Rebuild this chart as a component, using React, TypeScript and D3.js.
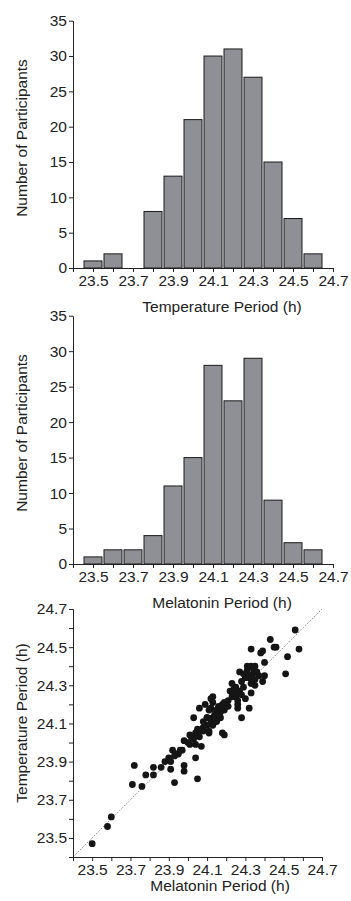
import React, { useEffect, useRef } from 'react';
import * as d3 from 'd3';

// histogram bins (centre of each 0.1 h bin)
const binCenters = [23.5, 23.6, 23.7, 23.8, 23.9, 24.0, 24.1, 24.2, 24.3, 24.4, 24.5, 24.6];
const temperatureCounts = [1, 2, 0, 8, 13, 21, 30, 31, 27, 15, 7, 2];
const melatoninCounts = [1, 2, 2, 4, 11, 15, 28, 23, 29, 9, 3, 2];

const periodTicks = [23.5, 23.7, 23.9, 24.1, 24.3, 24.5, 24.7];
const periodMinorTicks = [23.4, 23.6, 23.8, 24.0, 24.2, 24.4, 24.6];
const countTicks = [0, 5, 10, 15, 20, 25, 30, 35];

// scatter: melatonin period (x) vs temperature period (y), same order
const melatoninPeriod = [
  23.50, 23.58, 23.60, 23.71, 23.72, 23.76, 23.78, 23.82, 23.82, 23.86,
  23.88, 23.90, 23.91, 23.91, 23.92, 23.93, 23.94, 23.96, 23.97, 23.98,
  23.98, 23.98, 24.01, 24.01, 24.03, 24.03, 24.04, 24.04, 24.05, 24.05,
  24.06, 24.06, 24.07, 24.08, 24.08, 24.09, 24.10, 24.10, 24.11, 24.11,
  24.12, 24.12, 24.12, 24.13, 24.13, 24.13, 24.14, 24.14, 24.15, 24.15,
  24.15, 24.16, 24.16, 24.17, 24.17, 24.18, 24.18, 24.19, 24.19, 24.19,
  24.20, 24.21, 24.22, 24.23, 24.23, 24.24, 24.25, 24.25, 24.26, 24.26,
  24.27, 24.27, 24.28, 24.28, 24.29, 24.29, 24.30, 24.30, 24.31, 24.31,
  24.32, 24.32, 24.33, 24.33, 24.33, 24.33, 24.34, 24.34, 24.35, 24.35,
  24.38, 24.39, 24.39, 24.40, 24.40, 24.43, 24.45, 24.46, 24.51, 24.52,
  24.56, 24.58,
  24.35, 24.36, 24.34, 24.37, 24.32, 24.25, 24.24, 24.26, 24.28, 24.13,
  24.11, 24.17, 24.19, 24.14, 24.12, 24.08, 24.06, 24.10, 24.16, 24.21,
  24.00, 24.02, 23.95, 23.93, 24.04
];
const temperaturePeriod = [
  23.47, 23.56, 23.61, 23.78, 23.88, 23.77, 23.83, 23.83, 23.87, 23.87,
  23.90, 23.92, 23.86, 23.90, 23.96, 23.79, 23.94, 23.96, 23.96, 23.85,
  23.88, 24.01, 24.04, 23.99, 24.13, 24.02, 23.99, 23.92, 23.81, 24.07,
  24.18, 24.03, 23.98, 24.06, 24.11, 24.20, 24.09, 24.13, 24.05, 24.06,
  24.10, 24.18, 24.23, 24.24, 24.13, 24.09, 24.15, 24.12, 24.13, 24.17,
  24.11, 24.15, 24.19, 24.16, 24.13, 24.05, 24.20, 24.17, 24.04, 24.18,
  24.20, 24.19, 24.27, 24.31, 24.24, 24.27, 24.29, 24.24, 24.20, 24.18,
  24.37, 24.27, 24.32, 24.13, 24.36, 24.29, 24.23, 24.34, 24.38, 24.40,
  24.34, 24.18, 24.40, 24.31, 24.49, 24.26, 24.36, 24.39, 24.30, 24.40,
  24.47, 24.48, 24.32, 24.35, 24.42, 24.54, 24.50, 24.50, 24.36, 24.45,
  24.59, 24.49,
  24.33, 24.37, 24.31, 24.35, 24.35, 24.25, 24.28, 24.22, 24.25, 24.21,
  24.17, 24.19, 24.21, 24.12, 24.10, 24.08, 24.06, 24.13, 24.15, 24.22,
  24.00, 24.02, 23.94, 23.93, 24.05
];

const FONT = '"Liberation Sans", Arial, sans-serif';
const INK = '#222';
const FS = '15.5px';

const App = () => {
  const ref = useRef(null);

  useEffect(() => {
    const svg = d3.select(ref.current);
    svg.selectAll('*').remove();

    const styleAxis = (g) => {
      g.selectAll('path').attr('stroke', INK).attr('stroke-width', 1);
      g.selectAll('line').attr('stroke', INK).attr('stroke-width', 1);
      g.selectAll('text').attr('fill', INK).style('font-family', FONT).style('font-size', FS);
    };
    // unlabeled ticks: drop the empty text nodes
    const noText = (g) => g.selectAll('text').remove();

    const addLabel = (x, y, text, rotate = false) => {
      svg.append('text')
        .attr('transform', rotate ? `translate(${x},${y}) rotate(-90)` : `translate(${x},${y})`)
        .attr('text-anchor', 'middle')
        .attr('fill', INK)
        .style('font-family', FONT)
        .style('font-size', FS)
        .text(text);
    };

    const drawHistogram = (top, bottom, counts, yLabelMid, xLabel, xLabelY) => {
      const x = d3.scaleLinear().domain([23.4, 24.7]).range([73, 333]);
      const y = d3.scaleLinear().domain([0, 35]).range([bottom, top]);

      svg.append('g')
        .selectAll('rect')
        .data(binCenters.map((c, i) => ({ c, n: counts[i] })).filter(d => d.n > 0))
        .enter()
        .append('rect')
        .attr('x', d => x(d.c - 0.05) + 1)
        .attr('y', d => y(d.n))
        .attr('width', d => x(d.c + 0.05) - x(d.c - 0.05) - 2)
        .attr('height', d => y(0) - y(d.n))
        .attr('fill', '#8f9095')
        .attr('stroke', '#1a1a1a')
        .attr('stroke-width', 1);

      svg.append('g')
        .attr('transform', `translate(0,${bottom})`)
        .call(d3.axisBottom(x).tickValues(periodMinorTicks).tickSize(4).tickSizeOuter(0))
        .call(noText)
        .call(styleAxis);
      svg.append('g')
        .attr('transform', `translate(0,${bottom})`)
        .call(d3.axisBottom(x).tickValues(periodTicks).tickFormat(d3.format('.1f')).tickSize(4).tickPadding(3).tickSizeOuter(0))
        .call(styleAxis);

      svg.append('g')
        .attr('transform', 'translate(73,0)')
        .call(d3.axisLeft(y).tickValues(countTicks).tickSize(4).tickPadding(2).tickSizeOuter(0))
        .call(styleAxis);

      addLabel(27, yLabelMid, 'Number of Participants', true);
      addLabel(222, xLabelY, xLabel);
    };

    drawHistogram(20.7, 268, temperatureCounts, 138, 'Temperature Period (h)', 312);
    drawHistogram(315.7, 564, melatoninCounts, 433, 'Melatonin Period (h)', 608);

    // scatter
    const sx = d3.scaleLinear().domain([23.4, 24.7]).range([73, 322]);
    const sy = d3.scaleLinear().domain([23.4, 24.7]).range([857, 609]);

    svg.append('line')
      .attr('x1', sx(23.4)).attr('y1', sy(23.4))
      .attr('x2', sx(24.7)).attr('y2', sy(24.7))
      .attr('stroke', '#444')
      .attr('stroke-width', 0.8)
      .attr('stroke-dasharray', '1,1.5');

    svg.append('g')
      .selectAll('circle')
      .data(melatoninPeriod.map((m, i) => ({ m, t: temperaturePeriod[i] })))
      .enter()
      .append('circle')
      .attr('cx', d => sx(d.m))
      .attr('cy', d => sy(d.t))
      .attr('r', 3.4)
      .attr('fill', '#151515');

    svg.append('g')
      .attr('transform', 'translate(0,857)')
      .call(d3.axisBottom(sx).tickValues(periodMinorTicks).tickSize(4).tickSizeOuter(0))
      .call(noText)
      .call(styleAxis);
    svg.append('g')
      .attr('transform', 'translate(0,857)')
      .call(d3.axisBottom(sx).tickValues(periodTicks).tickFormat(d3.format('.1f')).tickSize(4).tickPadding(3).tickSizeOuter(0))
      .call(styleAxis);
    svg.append('g')
      .attr('transform', 'translate(73,0)')
      .call(d3.axisLeft(sy).tickValues(periodMinorTicks).tickSize(4).tickSizeOuter(0))
      .call(noText)
      .call(styleAxis);
    svg.append('g')
      .attr('transform', 'translate(73,0)')
      .call(d3.axisLeft(sy).tickValues(periodTicks).tickFormat(d3.format('.1f')).tickSize(4).tickPadding(2).tickSizeOuter(0))
      .call(styleAxis);

    addLabel(27, 723, 'Temperature Period (h)', true);
    addLabel(220, 891, 'Melatonin Period (h)');
  }, []);

  return (
    <svg ref={ref} width={351} height={901}
      style={{ position: 'absolute', left: 0, top: 0, background: '#fff' }} />
  );
};

export default App;
